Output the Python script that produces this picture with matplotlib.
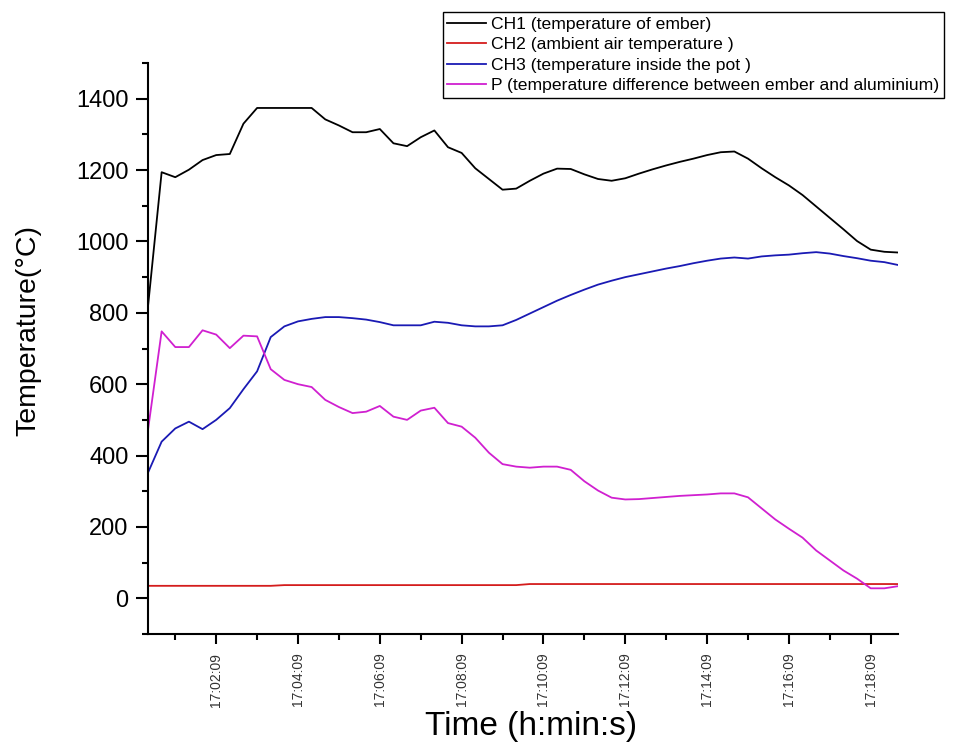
import matplotlib
matplotlib.use("Agg")
import matplotlib.pyplot as plt
import matplotlib.dates as mdates
import pandas as pd

plt.rcParams['font.family'] = ['Liberation Sans', 'DejaVu Sans']

# ---- data ----
start_time = "2000-01-01 17:00:29"
sample_interval = "20s"

ch1 = [818, 1194, 1180, 1201, 1228, 1242, 1245, 1330, 1374, 1374,
       1374, 1374, 1374, 1342, 1325, 1306, 1306, 1315, 1275, 1267,
       1292, 1311, 1264, 1248, 1205, 1175, 1145, 1148, 1170, 1190,
       1204, 1203, 1188, 1175, 1170, 1177, 1190, 1202, 1213, 1223,
       1232, 1242, 1250, 1252, 1232, 1205, 1180, 1157, 1130, 1098,
       1066, 1034, 1001, 977, 971, 969]

ch2 = [35, 35, 35, 35, 35, 35, 35, 35, 35, 35,
       37, 37, 37, 37, 37, 37, 37, 37, 37, 37,
       37, 37, 37, 37, 37, 37, 37, 37, 40, 40,
       40, 40, 40, 40, 40, 40, 40, 40, 40, 40,
       40, 40, 40, 40, 40, 40, 40, 40, 40, 40,
       40, 40, 40, 40, 40, 40]

ch3 = [352, 439, 476, 495, 474, 500, 533, 586, 636, 732,
       762, 776, 783, 788, 788, 785, 781, 774, 765, 765,
       765, 775, 772, 765, 762, 762, 765, 780, 798, 816,
       834, 850, 865, 879, 890, 900, 908, 916, 924, 931,
       939, 946, 952, 955, 952, 958, 961, 963, 967, 970,
       966, 959, 953, 946, 942, 934]

p_diff = [472, 748, 704, 704, 751, 739, 701, 736, 734, 642,
          612, 600, 592, 556, 536, 519, 523, 539, 509, 500,
          526, 534, 491, 481, 450, 408, 376, 369, 366, 369,
          369, 360, 328, 302, 282, 277, 278, 281, 284, 287,
          289, 291, 294, 294, 283, 252, 221, 195, 170, 134,
          106, 78, 55, 28, 28, 34]

labels = ["CH1 (temperature of ember)",
          "CH2 (ambient air temperature )",
          "CH3 (temperature inside the pot )",
          "P (temperature difference between ember and aluminium)"]
colors = ["#000000", "#d41c1c", "#1a1ab4", "#d020d0"]

times = pd.date_range(start_time, periods=len(ch1), freq=sample_interval)

# ---- figure ----
W, H = 963, 746
fig = plt.figure(figsize=(W / 100, H / 100), dpi=100)
ax = fig.add_axes([148 / W, 1 - 634 / H, (898 - 148) / W, (634 - 63) / H])

lines = []
for series, lab, col in zip([ch1, ch2, ch3, p_diff], labels, colors):
    ln, = ax.plot(times, series, color=col, lw=1.3, label=lab)
    lines.append(ln)

ax.spines['top'].set_visible(False)
ax.spines['right'].set_visible(False)
for s in ['left', 'bottom']:
    ax.spines[s].set_linewidth(1.5)

ax.yaxis.set_major_locator(matplotlib.ticker.MultipleLocator(200))
ax.yaxis.set_minor_locator(matplotlib.ticker.MultipleLocator(100))

first_tick = pd.Timestamp("2000-01-01 17:02:09")
major_ticks = pd.date_range(first_tick, periods=9, freq="2min")
minor_ticks = pd.date_range(first_tick - pd.Timedelta("1min"), periods=18, freq="2min")
ax.set_xticks(major_ticks)
ax.set_xticks(minor_ticks, minor=True)
ax.xaxis.set_major_formatter(mdates.DateFormatter("%H:%M:%S"))

ax.set_xlim(times[0], times[-1])
ax.set_ylim(-100, 1500)

ax.tick_params(axis='y', which='major', direction='out', length=9, width=1.5,
               labelsize=17, pad=5)
ax.tick_params(axis='y', which='minor', direction='out', length=4, width=1.5)
ax.tick_params(axis='x', which='major', direction='out', length=7.5, width=1.5,
               labelsize=10, pad=6, labelcolor='#333333')
ax.tick_params(axis='x', which='minor', direction='out', length=4, width=1.5)
for lbl in ax.get_xticklabels():
    lbl.set_rotation(90)

fig.text(28 / W, 1 - 331 / H, "Temperature(°C)", rotation=90,
         ha='center', va='center', fontsize=20.5)
fig.text(531 / W, 1 - 727 / H, "Time (h:min:s)",
         ha='center', va='center', fontsize=24)

leg = fig.legend(handles=lines, loc='upper left',
                 bbox_to_anchor=(443 / W, 1 - 12 / H),
                 fontsize=12.6, frameon=True, fancybox=False, framealpha=1,
                 edgecolor='black', borderpad=0.25, labelspacing=0.3,
                 handlelength=2.2, handletextpad=0.3, borderaxespad=0)
leg.get_frame().set_linewidth(1.0)

fig.savefig("out.png", dpi=100)
